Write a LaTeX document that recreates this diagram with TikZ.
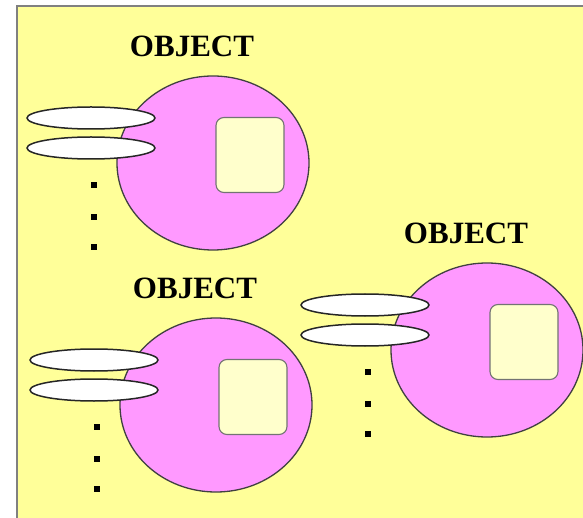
\documentclass[tikz,border=0pt]{standalone}
\usepackage{fontspec}
\setmainfont{Liberation Serif}
\usetikzlibrary{shapes.geometric}

\definecolor{paper}{HTML}{FFFF99}
\definecolor{objpink}{HTML}{FF99FF}
\definecolor{cream}{HTML}{FFFFCC}

\tikzset{
  body/.style={ellipse, draw=black!75, line width=1.3pt, fill=objpink,
    minimum width=192pt, minimum height=174pt, inner sep=0pt},
  slot/.style={ellipse, draw=black!85, line width=1.5pt, fill=white,
    minimum width=128pt, minimum height=22pt, inner sep=0pt},
  core/.style={draw=black!55, line width=1.1pt, fill=cream, rounded corners=8pt,
    minimum width=68pt, minimum height=75pt, inner sep=0pt},
  title/.style={font=\bfseries\fontsize{31}{31}\selectfont}
}

\begin{document}
\begin{tikzpicture}[x=1pt,y=-1pt]
  \useasboundingbox (0,0) rectangle (583,518);
  \fill[white] (0,0) rectangle (583,518);
  \fill[paper] (17,6) rectangle (583,518);
  \draw[gray, line width=2.5pt] (17,518) -- (17,6) -- (583,6);
  % three objects, each with its methods stacked on the left
  \foreach \n/\cx/\cy in {a/213/163, b/216/405, c/487/350} {
    \begin{scope}[shift={(\cx,\cy)}]
      \node[title] (label\n) at (-21,-117) {OBJECT};
      \node[body] (obj\n) at (0,0) {};
      \node[core] (core\n) at (37,-8) {};
      \node[slot] (slot\n1) at (-122,-45) {};
      \node[slot] (slot\n2) at (-122,-15) {};
      \foreach \dy in {22,54,84} \fill (-122,\dy-3) rectangle ++(6,6);
    \end{scope}
  }
\end{tikzpicture}
\end{document}
